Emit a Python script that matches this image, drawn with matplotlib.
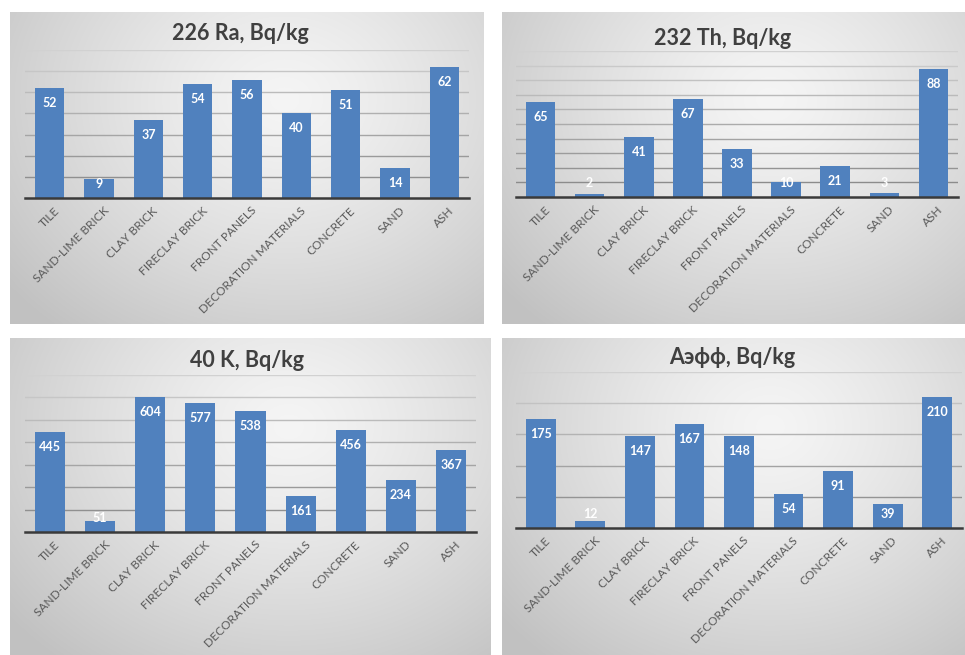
import numpy as np
import matplotlib
matplotlib.use("Agg")
import matplotlib.pyplot as plt
from matplotlib.transforms import ScaledTranslation

# ---- data ----
categories = ["TILE", "SAND-LIME BRICK", "CLAY BRICK", "FIRECLAY BRICK", "FRONT PANELS",
              "DECORATION MATERIALS", "CONCRETE", "SAND", "ASH"]
ra226 = [52, 9, 37, 54, 56, 40, 51, 14, 62]
th232 = [65, 2, 41, 67, 33, 10, 21, 3, 88]
k40 = [445, 51, 604, 577, 538, 161, 456, 234, 367]
a_eff = [175, 12, 147, 167, 148, 54, 91, 39, 210]
titles = ["226 Ra, Bq/kg", "232 Th, Bq/kg", "40 K, Bq/kg", "Аэфф, Bq/kg"]
y_max = [70, 100, 700, 250]
y_step = [10, 10, 100, 50]

series = [ra226, th232, k40, a_eff]

W, H = 965, 655
fig = plt.figure(figsize=(W / 100, H / 100), dpi=100)
fig.patch.set_facecolor("white")

FONT = ["Lato", "Open Sans", "DejaVu Sans"]
BAR = "#5081be"


def rect(x0, y0, x1, y1):
    """Pixel box (top-left origin) -> figure fraction rect."""
    return [x0 / W, 1 - y1 / H, (x1 - x0) / W, (y1 - y0) / H]


layout = [
    dict(bg=(10, 12, 484, 324), plot=(25, 50, 469, 198), title=(240, 40)),
    dict(bg=(502, 12, 965, 324), plot=(516, 51, 958, 197), title=(723, 45)),
    dict(bg=(10, 338, 491, 655), plot=(25, 375, 476, 532), title=(247, 367)),
    dict(bg=(502, 338, 965, 655), plot=(516, 372, 962, 528), title=(732, 364)),
]


def gradient(nx, ny):
    xs = np.linspace(0, 1, nx)
    ys = np.linspace(1, 0, ny)
    X, Y = np.meshgrid(xs, ys)
    r = np.sqrt(((X - 0.58) / 0.75) ** 2 + ((Y - 0.72) / 0.95) ** 2)
    t = np.clip(r, 0, 1) ** 1.3
    light, dark = 0.96, 0.76
    v = light + (dark - light) * t
    return np.dstack([v, v, v])


shift = ScaledTranslation(4 / 100, 0, fig.dpi_scale_trans)

for spec, vals, title, ymax, step in zip(layout, series, titles, y_max, y_step):
    bx0, by0, bx1, by1 = spec["bg"]
    bg = fig.add_axes(rect(*spec["bg"]), zorder=0)
    bg.imshow(gradient(bx1 - bx0, by1 - by0), aspect="auto", extent=(0, 1, 0, 1),
              interpolation="bilinear")
    bg.set_axis_off()

    px0, py0, px1, py1 = spec["plot"]
    ax = fig.add_axes(rect(*spec["plot"]), zorder=1)
    ax.set_facecolor("none")
    x = np.arange(len(categories))
    ax.bar(x, vals, width=0.6, color=BAR, zorder=3)
    ax.set_xlim(-0.5, len(categories) - 0.5)
    ax.set_ylim(0, ymax)

    # horizontal gridlines, darker toward the base
    for lvl in np.arange(step, ymax + step / 2, step):
        g = 0.52 + 0.30 * (lvl / ymax)
        ax.axhline(lvl, color=(g, g, g), lw=1.0, zorder=1)
    ax.axhline(0, color="#3a3a3a", lw=1.8, zorder=4, clip_on=False)

    for s in ax.spines.values():
        s.set_visible(False)
    ax.set_yticks([])
    ax.set_xticks(x)
    ax.set_xticklabels(categories, rotation=45, ha="right", rotation_mode="anchor",
                       fontsize=8.6, color="#595959", family=FONT)
    ax.tick_params(axis="x", length=0, pad=5)
    for lab in ax.get_xticklabels():
        lab.set_transform(lab.get_transform() + shift)

    # value labels at the inside end of each bar
    upp = ymax / (py1 - py0)
    for xi, v in zip(x, vals):
        yl = max(v - 15 * upp, 14 * upp)
        ax.text(xi, yl, str(v), ha="center", va="center", color="white",
                fontsize=9, fontweight="bold", family=FONT, zorder=5)

    tx, ty = spec["title"]
    fig.text(tx / W, 1 - ty / H, title, ha="center", va="baseline", fontsize=15.5,
             fontweight="bold", color="#404040", family=FONT, zorder=6)

fig.savefig("out.png", dpi=100, facecolor="white")
